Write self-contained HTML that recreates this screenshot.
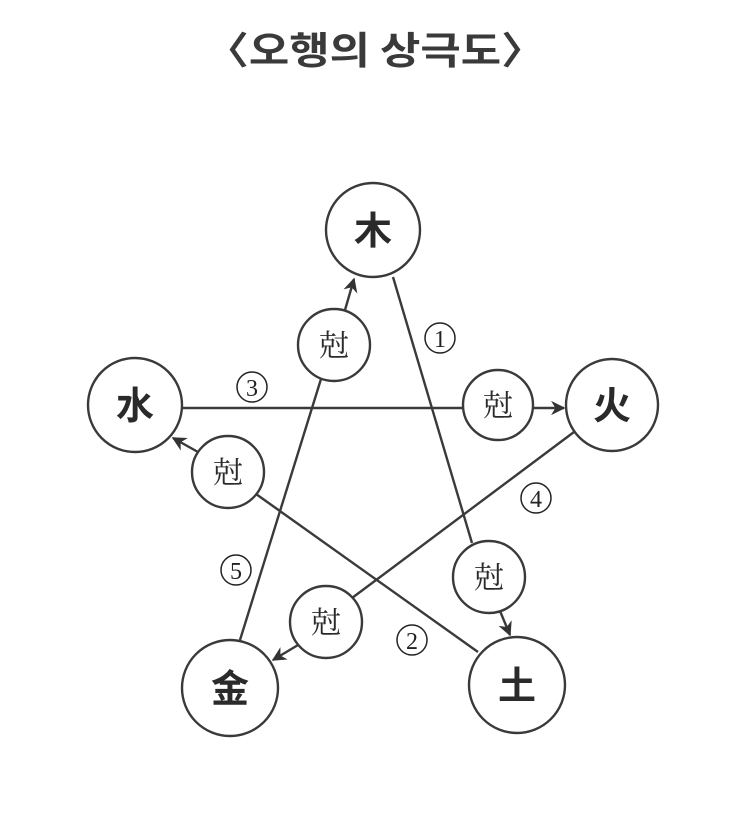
<!DOCTYPE html>
<html><head><meta charset="utf-8"><style>
html,body{margin:0;padding:0;background:#fff;}
svg{display:block;}
</style></head><body>
<svg width="738" height="822" viewBox="0 0 738 822" xmlns="http://www.w3.org/2000/svg">
<defs>
<marker id="a" viewBox="0 0 10 10" refX="9" refY="5" markerWidth="6" markerHeight="6" orient="auto"><path d="M0,0 L10,5 L0,10 L3,5 z" fill="#333"/></marker>
</defs>
<text x="375" y="64" text-anchor="middle" font-family="'Noto Sans CJK KR',sans-serif" font-weight="bold" font-size="38" fill="#3a3a3a" textLength="340" lengthAdjust="spacingAndGlyphs">〈오행의 상극도〉</text>
<g stroke="#3a3a3a" stroke-width="2.4" fill="none">
<circle cx="373" cy="230" r="47"/>
<circle cx="612" cy="405" r="46"/>
<circle cx="135" cy="405" r="47"/>
<circle cx="230" cy="688" r="48"/>
<circle cx="517" cy="685" r="48"/>
<circle cx="334" cy="345" r="36"/>
<circle cx="498" cy="405" r="35"/>
<circle cx="228" cy="472" r="36"/>
<circle cx="489" cy="577" r="36"/>
<circle cx="326" cy="622" r="36"/>
<line x1="393" y1="277" x2="472" y2="543"/>
<line x1="500" y1="611" x2="510" y2="635" marker-end="url(#a)"/>
<line x1="183" y1="408" x2="463" y2="408"/>
<line x1="533" y1="408" x2="564" y2="408" marker-end="url(#a)"/>
<line x1="478" y1="652" x2="256" y2="494"/>
<line x1="198" y1="452" x2="173" y2="438" marker-end="url(#a)"/>
<line x1="574" y1="432" x2="352" y2="598"/>
<line x1="298" y1="645" x2="273" y2="660" marker-end="url(#a)"/>
<line x1="240" y1="640" x2="321" y2="379"/>
<line x1="345" y1="310" x2="354" y2="279" marker-end="url(#a)"/>
</g>
<g font-family="'Noto Sans CJK SC',sans-serif" font-weight="bold" fill="#2a2a2a" text-anchor="middle">
<text x="373" y="244" font-size="38">木</text>
<text x="612" y="419" font-size="38">火</text>
<text x="135" y="419" font-size="38">水</text>
<text x="230" y="702" font-size="38">金</text>
<text x="517" y="699" font-size="38">土</text>
</g>
<g font-family="'Noto Serif CJK SC','Noto Sans CJK SC',serif" fill="#2a2a2a" text-anchor="middle" font-size="30">
<text x="334" y="356">尅</text>
<text x="498" y="416">尅</text>
<text x="228" y="483">尅</text>
<text x="489" y="588">尅</text>
<text x="326" y="633">尅</text>
</g>
<g stroke="#222" stroke-width="1.5" fill="none">
<circle cx="440" cy="338" r="15"/>
<circle cx="412" cy="640" r="15"/>
<circle cx="252" cy="387" r="15"/>
<circle cx="536" cy="498" r="15"/>
<circle cx="236" cy="570" r="15"/>
</g>
<g font-family="'Liberation Serif',serif" font-size="24" fill="#222" text-anchor="middle">
<text x="440" y="347">1</text>
<text x="412" y="649">2</text>
<text x="252" y="396">3</text>
<text x="536" y="507">4</text>
<text x="236" y="579">5</text>
</g>
</svg>
</body></html>
